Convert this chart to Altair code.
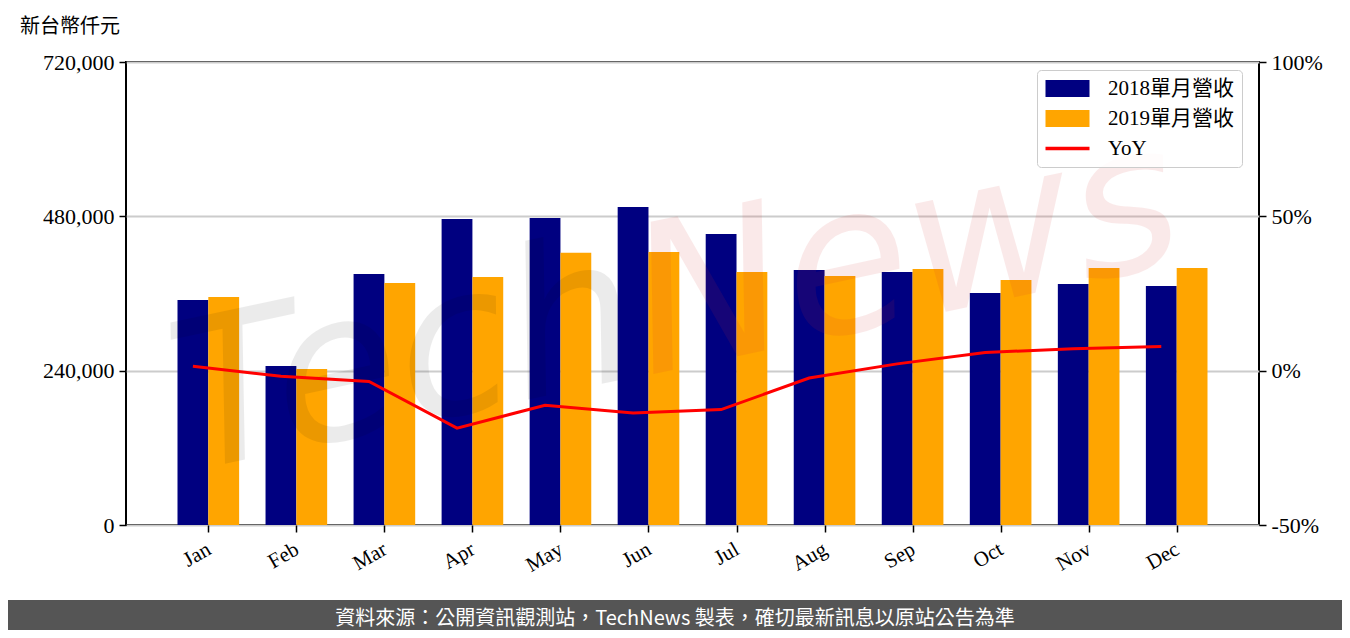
import altair as alt
import pandas as pd

# ---------------- data ----------------
months = ["Jan", "Feb", "Mar", "Apr", "May", "Jun", "Jul", "Aug", "Sep", "Oct", "Nov", "Dec"]
rev_2018 = [349900, 247300, 390300, 475900, 477400, 494500, 452500, 396600, 393400, 360800, 374800, 371700]
rev_2019 = [354600, 242600, 376300, 385700, 423500, 424500, 393400, 387200, 398100, 381000, 399700, 399700]
yoy_pct = [1.4, -1.8, -3.5, -18.6, -11.2, -13.7, -12.6, -2.4, 2.2, 5.9, 7.1, 7.8]
series_labels = ["2018單月營收", "2019單月營收", "YoY"]
series_colors = ["#000080", "#FFA500", "#FF0000"]
left_ticks = [0, 240000, 480000, 720000]
right_ticks = [-50, 0, 50, 100]
unit_title = "新台幣仟元"
footer_text = "資料來源：公開資訊觀測站，TechNews 製表，確切最新訊息以原站公告為準"

# ---------------- tables ----------------
rows = []
for i, m in enumerate(months):
    rows.append({"idx": i, "k": 0, "series": series_labels[0], "value": rev_2018[i]})
    rows.append({"idx": i, "k": 1, "series": series_labels[1], "value": rev_2019[i]})
bars_df = pd.DataFrame(rows)
yoy_df = pd.DataFrame({"idx": list(range(len(months))), "yoy": yoy_pct})
legend_df = pd.DataFrame({"series": series_labels})
one = pd.DataFrame({"t": [0]})

W, H = 1133, 463
PAD = {"left": 118, "top": 54, "right": 83, "bottom": 105}

label_font = "Liberation Serif"
cjk_font = "Liberation Serif, Noto Sans CJK TC"

month_expr = "[" + ",".join("'%s'" % m for m in months) + "][datum.value]"
x_scale = alt.Scale(domain=[-0.935, len(months) - 1 + 0.935], nice=False, zero=False)
x_axis = alt.Axis(values=list(range(len(months))), labelExpr=month_expr, title=None,
                  grid=False, labelAngle=-30, labelAlign="right", labelBaseline="top",
                  labelPadding=6, labelFontSize=21, labelOffset=-5)
bar_color_scale = alt.Scale(domain=series_labels[:2], range=series_colors[:2])
fill_scale = alt.Scale(domain=series_labels, range=series_colors)

rect_path = "M-1,-0.85H3.4V0.85H-1Z"
line_path = "M-1,-0.17H3.4V0.17H-1Z"
shape_scale = alt.Scale(domain=series_labels, range=[rect_path, rect_path, line_path])

legend = alt.Legend(title=None, orient="none", legendX=911, legendY=8, direction="vertical",
                    labelFont=cjk_font, labelFontSize=21, labelColor="black",
                    labelOffset=42, rowPadding=8, padding=8,
                    strokeColor="#cccccc", cornerRadius=4, fillColor="rgba(255,255,255,0.85)",
                    symbolSize=400, symbolStrokeWidth=0, symbolOpacity=1)

# footer bar
footer = alt.Chart(one).mark_rect(color="#555555").encode(
    x=alt.value(-PAD["left"]), x2=alt.value(W + PAD["right"]),
    y=alt.value(538), y2=alt.value(H + PAD["bottom"])
)

bars = alt.Chart(bars_df).transform_calculate(
    x0="datum.idx - 0.35 + datum.k * 0.35",
    x1="datum.idx + datum.k * 0.35",
).mark_bar().encode(
    x=alt.X("x0:Q", scale=x_scale, axis=x_axis),
    x2="x1:Q",
    y=alt.Y("value:Q", scale=alt.Scale(domain=[0, 720000], nice=False),
            axis=alt.Axis(values=left_ticks, format=",d", title=None, grid=True,
                          gridColor="#cccccc", gridWidth=2)),
    y2=alt.datum(0),
    color=alt.Color("series:N", scale=bar_color_scale, legend=None),
)

wm_tech = alt.Chart(one).mark_text(
    text="Tech", font="DejaVu Sans", fontSize=205, fontStyle="italic", angle=348,
    color="#000000", opacity=0.075, align="center", baseline="middle"
).encode(x=alt.value(280), y=alt.value(300))

wm_news = alt.Chart(one).mark_text(
    text="News", font="DejaVu Sans", fontSize=205, fontStyle="italic", angle=348,
    color="#d83030", opacity=0.1, align="center", baseline="middle"
).encode(x=alt.value(780), y=alt.value(195))

line = alt.Chart(yoy_df).transform_calculate(
    xl="datum.idx - 0.175"
).mark_line(color="#FF0000", strokeWidth=3).encode(
    x=alt.X("xl:Q", scale=x_scale, axis=x_axis),
    y=alt.Y("yoy:Q", scale=alt.Scale(domain=[-50, 100], nice=False),
            axis=alt.Axis(orient="right", values=right_ticks, labelExpr="datum.value + '%'",
                          title=None, grid=False)),
)

# legend-only layer: its points sit outside the canvas, only the legend is seen
legend_layer = alt.Chart(legend_df).mark_point(filled=True).encode(
    fill=alt.Fill("series:N", scale=fill_scale, legend=legend),
    shape=alt.Shape("series:N", scale=shape_scale, legend=legend),
    size=alt.value(400),
    x=alt.value(-2000),
    y=alt.value(-2000),
)

title_txt = alt.Chart(one).mark_text(
    text=unit_title, font="Noto Sans CJK TC", fontSize=20, color="black",
    align="left", baseline="middle"
).encode(x=alt.value(-106), y=alt.value(-35))

footer_txt = alt.Chart(one).mark_text(
    text=footer_text, font="Noto Sans CJK TC", fontSize=20, color="white",
    align="center", baseline="middle"
).encode(x=alt.value(549), y=alt.value(557))

chart = alt.layer(
    footer, bars, wm_tech, wm_news, line, legend_layer, title_txt, footer_txt
).resolve_scale(
    y="independent"
).properties(
    width=W, height=H, padding=PAD,
    autosize=alt.AutoSizeParams(type="none"),
).configure_view(
    stroke="black", strokeWidth=2
).configure_axis(
    domain=False, ticks=True, tickColor="black", tickWidth=1.5, tickSize=7,
    labelFont=label_font, labelFontSize=22, labelColor="black", labelPadding=5,
)

chart.save("out.html", embed_options={"renderer": "svg", "actions": False})
